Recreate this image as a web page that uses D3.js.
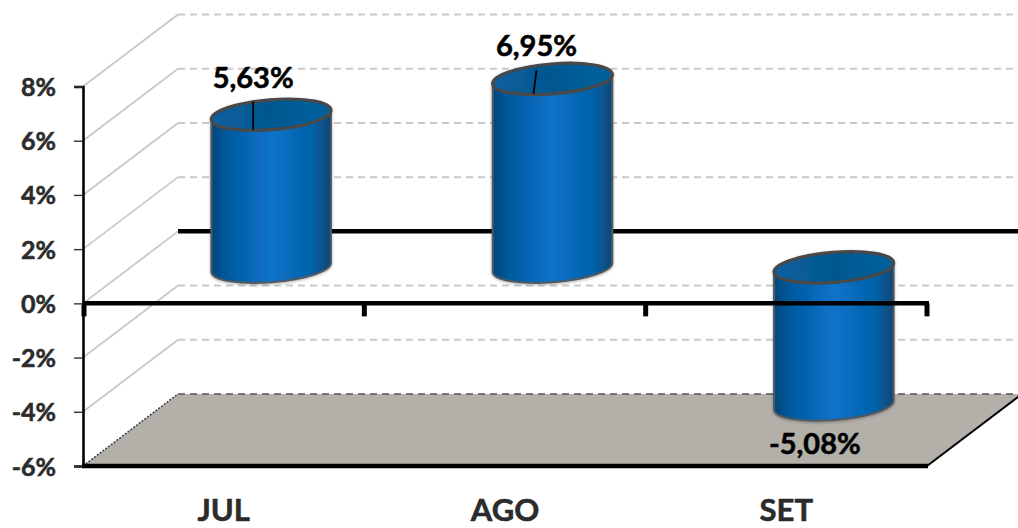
<!DOCTYPE html>
<html>
<head>
<meta charset="utf-8">
<script src="https://d3js.org/d3.v7.min.js"></script>
<style>
html,body{margin:0;padding:0;background:#fff;overflow:hidden}
svg{display:block}
text{font-family:Lato,"Open Sans",sans-serif;font-weight:700;stroke:currentColor;stroke-width:.55px;paint-order:stroke}
</style>
</head>
<body>
<svg id="chart" width="1018" height="528"></svg>
<script>
// Monthly variation, drawn as 3D cylinders in an oblique box
const months = ["JUL", "AGO", "SET"];
const variation = [5.63, 6.95, -5.08];
const yTicks = [-6, -4, -2, 0, 2, 4, 6, 8];

const width = 1018, height = 528;
const depthX = 95, depthY = -72;          // oblique offset from front to back wall
const floorValue = -6;

const x = d3.scaleBand().domain(months).range([83, 927]);
const y = d3.scaleLinear().domain([-6, 8]).range([466, 86.5]);

const svg = d3.select("#chart");
const defs = svg.append("defs");

const side = defs.append("linearGradient").attr("id", "cylSide");
[[0, "#06467a"], [0.14, "#055a9f"], [0.5, "#0873cb"], [0.85, "#0561a8"], [1, "#0c4674"]]
  .forEach(([o, c]) => side.append("stop").attr("offset", o).attr("stop-color", c));
const cap = defs.append("linearGradient").attr("id", "cylCap");
[[0, "#0a5f9f"], [0.5, "#04578f"], [1, "#05629f"]]
  .forEach(([o, c]) => cap.append("stop").attr("offset", o).attr("stop-color", c));
defs.append("filter").attr("id", "soft")
  .attr("x", "-10%").attr("y", "-10%").attr("width", "120%").attr("height", "120%")
  .append("feDropShadow")
  .attr("dx", 0).attr("dy", 1).attr("stdDeviation", 1.4)
  .attr("flood-color", "#000").attr("flood-opacity", 0.3);

// Floor of the box
const [x0, x1] = x.range();
const yFloor = y(floorValue);
svg.append("path")
  .attr("d", d3.line()([[x0, yFloor], [x1, yFloor], [x1 + depthX, yFloor + depthY], [x0 + depthX, yFloor + depthY]]) + "Z")
  .attr("fill", "#b3b0aa");

// Back wall gridlines and their diagonals on the side wall
const grid = svg.append("g");
yTicks.forEach(t => {
  const isZero = t === 0, isFloor = t === floorValue;
  grid.append("line")
    .attr("x1", x0 + depthX).attr("x2", width + 10)
    .attr("y1", y(t) + depthY).attr("y2", y(t) + depthY)
    .attr("stroke", isZero ? "#000" : isFloor ? "#555" : "#c9c9c9")
    .attr("stroke-width", isZero ? 4.5 : isFloor ? 1.6 : 2)
    .attr("stroke-dasharray", isZero ? null : "7,5");
  grid.append("line")
    .attr("x1", x0).attr("x2", x0 + depthX)
    .attr("y1", y(t)).attr("y2", y(t) + depthY)
    .attr("stroke", isFloor ? "#444" : "#c9c9c9")
    .attr("stroke-width", isFloor ? 1.6 : 1.8)
    .attr("stroke-dasharray", isFloor ? "2,1.5" : null);
});

// Right edge of the floor
svg.append("line")
  .attr("x1", x1).attr("y1", yFloor)
  .attr("x2", x1 + depthX).attr("y2", yFloor + depthY)
  .attr("stroke", "#000").attr("stroke-width", 2);

// Cylinders sit halfway into the box depth
const rx = 60, ry = 15, tilt = -4.6;
const cosT = Math.cos(tilt * Math.PI / 180), sinT = Math.sin(tilt * Math.PI / 180);
const fmt = v => d3.format(".2f")(v).replace(".", ",").replace("\u2212", "-") + "%";

const cyl = svg.append("g").selectAll("g")
  .data(months.map((m, i) => ({ m, v: variation[i] })))
  .join("g")
  .attr("filter", "url(#soft)");

cyl.each(function (d) {
  const g = d3.select(this);
  const cx = x(d.m) + x.bandwidth() / 2 + depthX / 2;
  const yBase = y(0) + depthY / 2;
  const yVal = y(d.v) + depthY / 2;
  const topY = Math.min(yBase, yVal), botY = Math.max(yBase, yVal);
  const lx = cx - rx * cosT, rxPt = cx + rx * cosT;
  const ly = -rx * sinT, ryPt = rx * sinT;   // vertical shift of the ellipse ends
  const arc = `A${rx},${ry} ${tilt} 0 `;
  g.append("path")
    .attr("d", `M${lx},${topY + ly} L${lx},${botY + ly} ${arc}0 ${rxPt},${botY + ryPt} L${rxPt},${topY + ryPt} ${arc}1 ${lx},${topY + ly} Z`)
    .attr("fill", "url(#cylSide)")
    .attr("stroke", "#505a62").attr("stroke-width", 2);
  g.append("ellipse")
    .attr("transform", `translate(${cx},${topY}) rotate(${tilt})`)
    .attr("rx", rx).attr("ry", ry)
    .attr("fill", "url(#cylCap)")
    .attr("stroke", "#484848").attr("stroke-width", 3.2);
});

// Front zero axis with its category tick marks
const front = svg.append("g");
front.append("line")
  .attr("x1", x0 - 1).attr("x2", x1 + 2).attr("y1", y(0)).attr("y2", y(0))
  .attr("stroke", "#000").attr("stroke-width", 4.5);
const edges = [x0, ...months.map(m => x(m) + x.bandwidth())];
front.selectAll("line.cat").data(edges).join("line").attr("class", "cat")
  .attr("x1", d => d === x0 ? d + 1 : d).attr("x2", d => d === x0 ? d + 1 : d)
  .attr("y1", y(0)).attr("y2", y(0) + 13)
  .attr("stroke", "#000").attr("stroke-width", 5);

// Front edge of the floor
svg.append("line")
  .attr("x1", x0 - 1).attr("x2", x1 + 1).attr("y1", yFloor).attr("y2", yFloor)
  .attr("stroke", "#000").attr("stroke-width", 4.5);

// Value axis
const yAxis = svg.append("g")
  .attr("transform", `translate(${x0},0)`)
  .call(d3.axisLeft(y).tickValues(yTicks).tickSize(9).tickPadding(18).tickFormat(d => d + "%"));
yAxis.select(".domain").attr("stroke", "#000").attr("stroke-width", 2.6);
yAxis.selectAll(".tick line").attr("stroke", "#333").attr("stroke-width", 1.4);
yAxis.selectAll("text").attr("fill", "#2b2b2b").style("color", "#2b2b2b").style("font-size", "25px").attr("dy", "0.36em");

// Category labels
const xAxis = svg.append("g")
  .attr("transform", `translate(0,${yFloor})`)
  .call(d3.axisBottom(x).tickSize(0).tickPadding(33));
xAxis.select(".domain").remove();
xAxis.selectAll("text").attr("fill", "#2b2b2b").style("color", "#2b2b2b").style("font-size", "31px");

// Value labels with the short leader lines into the cylinder tops
const labelPlace = [
  { dx: -18, dy: -27, leader: [[-18, -13], [-18, 15]] },
  { dx: -16, dy: -23, leader: [[-16, -9], [-19, 15]] },
  { dx: -19, dy: 49, leader: null }
];
months.forEach((m, i) => {
  const v = variation[i], p = labelPlace[i];
  const cx = x(m) + x.bandwidth() / 2 + depthX / 2;
  const cy = y(v) + depthY / 2;
  svg.append("text")
    .attr("x", cx + p.dx).attr("y", cy + p.dy)
    .attr("text-anchor", "middle")
    .attr("fill", "#000").style("color", "#000").style("font-size", "29px")
    .text(fmt(v));
  if (p.leader) {
    svg.append("line")
      .attr("x1", cx + p.leader[0][0]).attr("y1", cy + p.leader[0][1])
      .attr("x2", cx + p.leader[1][0]).attr("y2", cy + p.leader[1][1])
      .attr("stroke", "#000").attr("stroke-width", 1.8);
  }
});
</script>
</body>
</html>
